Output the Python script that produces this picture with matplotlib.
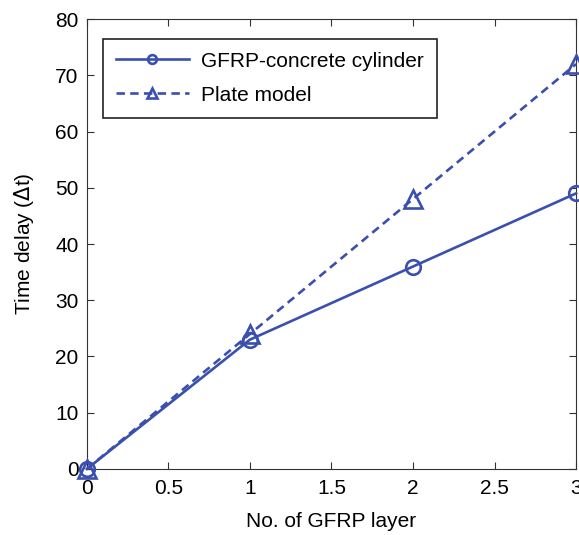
import numpy as np
import matplotlib.pyplot as plt

plt.rcParams['font.family'] = ['Liberation Sans', 'DejaVu Sans']

layers = [0, 1, 2, 3]
cylinder = [0, 23, 36, 49]
plate = [0, 24, 48, 72]

blue = '#3a4fae'

fig = plt.figure(figsize=(5.79, 5.35), dpi=100)
ax = fig.add_axes([0.150, 0.1234, 0.845, 0.841])

ax.plot(layers, cylinder, '-o', color=blue, lw=1.9, ms=10.5, mfc='none', mew=1.9,
        label='GFRP-concrete cylinder', clip_on=False, zorder=3)
ax.plot(layers, plate, '--^', color=blue, lw=1.9, ms=13, mfc='none', mew=1.9,
        dashes=(3.2, 2), label='Plate model', clip_on=False, zorder=3)

ax.set_xlim(0, 3)
ax.set_ylim(0, 80)
ax.set_xticks([0, 0.5, 1, 1.5, 2, 2.5, 3])
ax.set_xticklabels(['0', '0.5', '1', '1.5', '2', '2.5', '3'])
ax.set_yticks(np.arange(0, 81, 10))
ax.tick_params(direction='in', length=5, labelsize=15, top=True, right=True,
               color='#333333', pad=7)
ax.tick_params(axis='y', pad=6)
for s in ax.spines.values():
    s.set_color('#333333')
ax.set_xlabel('No. of GFRP layer', fontsize=15, labelpad=10)
ax.set_ylabel('Time delay ($\\Delta$t)', fontsize=15, labelpad=14)

leg = ax.legend(loc='upper left', bbox_to_anchor=(0.033, 0.956), fontsize=15,
                fancybox=False, edgecolor='#222222', framealpha=1,
                handlelength=3.5, handletextpad=0.6, borderpad=0.62,
                labelspacing=0.72, markerscale=0.6, borderaxespad=0)
leg.get_frame().set_linewidth(1.2)

fig.savefig('out.png', dpi=100)
